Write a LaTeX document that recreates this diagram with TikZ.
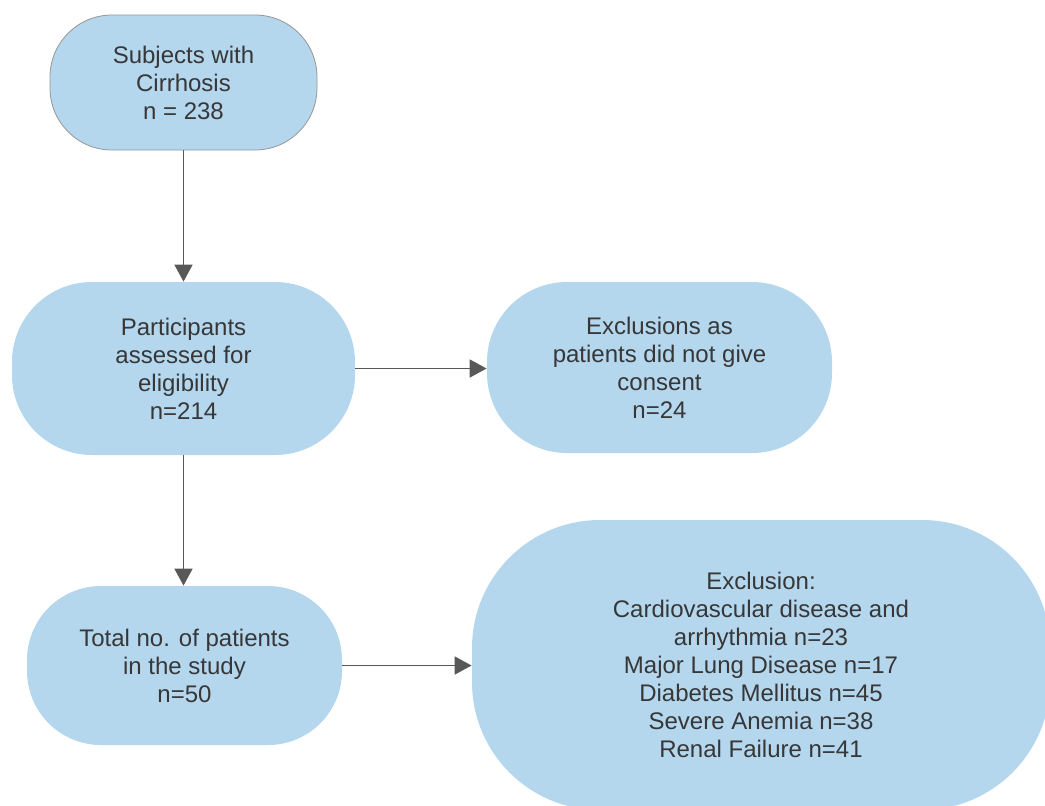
\documentclass[tikz,border=0pt]{standalone}
\usepackage{fontspec}
\setmainfont{Liberation Sans}
\usetikzlibrary{arrows.meta,positioning}
\definecolor{boxfill}{RGB}{180,215,238}
\definecolor{linegray}{RGB}{88,88,88}
\definecolor{textgray}{RGB}{55,55,55}
\definecolor{edgegray}{RGB}{150,150,150}

\tikzset{
  flowbox/.style={rectangle,fill=boxfill,text=textgray,align=center,inner sep=0pt,
    font=\fontsize{12}{14}\selectfont},
  flowarrow/.style={->,linegray,line width=0.9pt}
}

\begin{document}
\begin{tikzpicture}[x=0.5pt,y=-0.5pt,>={Triangle[length=8.5pt,width=9pt]}]
  \useasboundingbox (0,0) rectangle (1045,805);
  \clip (0,0) rectangle (1045,805);
  % boxes
  \node[flowbox,draw=edgegray,rounded corners=31pt,minimum width=133.5pt,minimum height=67.5pt]
    (subj) at (183.5,82.5) {Subjects with\\Cirrhosis\\n = 238};
  \node[flowbox,rounded corners=40pt,minimum width=171.5pt,minimum height=86.5pt]
    (elig) at (183.5,368.5) {Participants\\assessed for\\eligibility\\n=214};
  \node[flowbox,rounded corners=40pt,minimum width=172.5pt,minimum height=85.5pt]
    (consent) at (659.5,367.5) {Exclusions as\\patients did not give\\consent\\n=24};
  \node[flowbox,rounded corners=37pt,minimum width=157.5pt,minimum height=79.5pt]
    (total) at (184.5,665.5) {Total no. of patients\\in the study\\n=50};
  \node[flowbox,rounded corners=64pt,minimum width=289pt,minimum height=145pt]
    (excl) at (761,665) {Exclusion:\\Cardiovascular disease and\\arrhythmia n=23\\Major Lung Disease n=17\\Diabetes Mellitus n=45\\Severe Anemia n=38\\Renal Failure n=41};
  % arrows
  \draw[flowarrow] (subj) -- (elig);
  \draw[flowarrow] (elig.south) -- (total.north -| elig.south);
  \draw[flowarrow] (elig.east) -- (consent.west |- elig.east);
  \draw[flowarrow] (total.east) -- (excl.west |- total.east);
\end{tikzpicture}
\end{document}
